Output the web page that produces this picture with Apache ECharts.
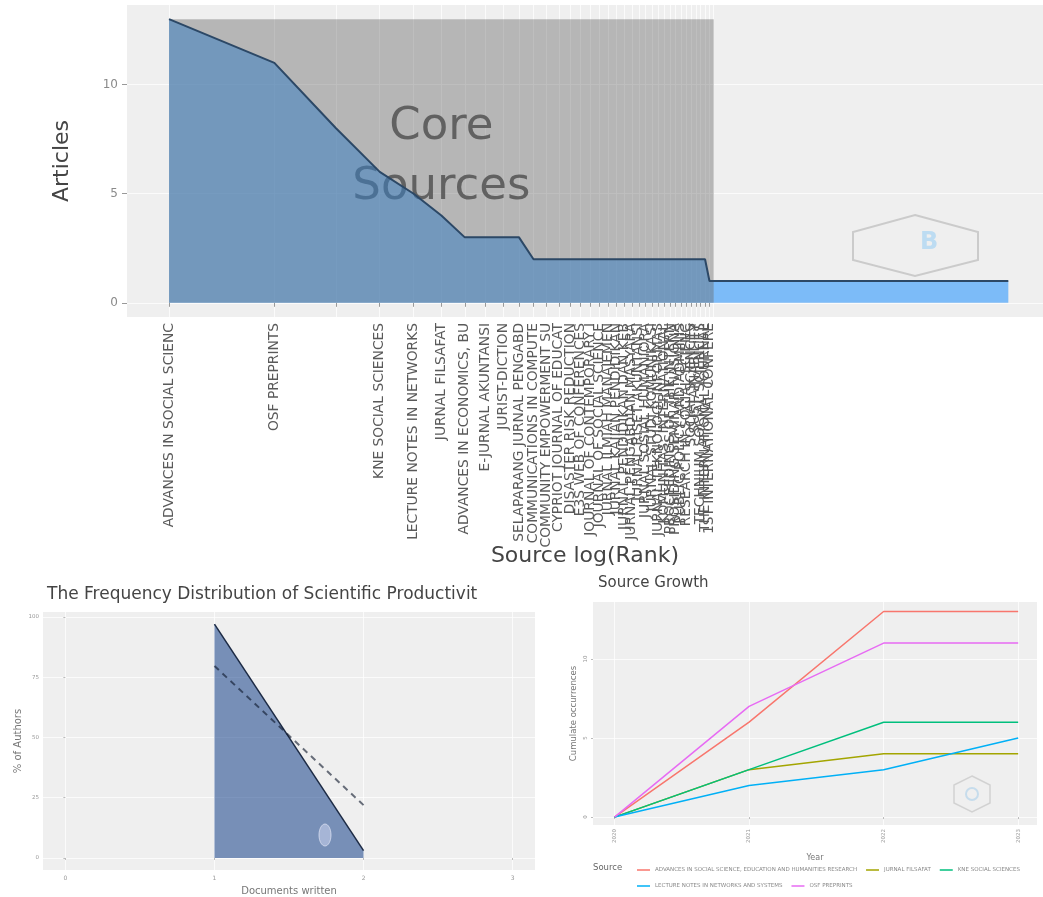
<!DOCTYPE html>
<html><head><meta charset="utf-8">
<script src="https://cdn.jsdelivr.net/npm/echarts@6/dist/echarts.min.js"></script>
<style>html,body{margin:0;padding:0;background:#fff}#c{width:1043px;height:897px}</style>
</head><body><div id="c"></div>
<script>
// ---------- Bradford's law (top) ----------
const sourceNames = [
  "ADVANCES IN SOCIAL SCIENC", "OSF PREPRINTS", "", "KNE SOCIAL SCIENCES",
  "LECTURE NOTES IN NETWORKS", "JURNAL FILSAFAT", "ADVANCES IN ECONOMICS, BU",
  "E-JURNAL AKUNTANSI", "JURIST-DICTION", "SELAPARANG JURNAL PENGABD",
  "COMMUNICATIONS IN COMPUTE", "COMMUNITY EMPOWERMENT SU", "CYPRIOT JOURNAL OF EDUCAT",
  "DISASTER RISK REDUCTION", "E3S WEB OF CONFERENCES", "JOURNAL OF CONTEMPORARY I",
  "JOURNAL OF SOCIAL SCIENCE", "JURNAL ILMIAH MANAJEMEN", "JURNAL KAJIAN PENDIDIKAN",
  "JURNAL PENDIDIKAN DAN KEB", "JURNAL PENGABDIAN MASYARA", "JURNAL RISET AKUNTANSI",
  "JURNAL SOSIAL HUMANIORA", "JURNAL STUDI KOMUNIKASI", "JURNAL TEKNOLOGI INFORMAS",
  "KOMUNITAS: INTERNATIONAL", "PROCEEDINGS OF THE INTERN", "PROSIDING SEMINAR NASIONA",
  "PUBLIC POLICY AND ADMINIS", "RESEARCH IN SOCIAL SCIENC", "SOCIAL SCIENCES",
  "SUSTAINABILITY", "TECHNIUM SOCIAL SCIENCES", "THE INTERNATIONAL JOURNAL",
  "1ST INTERNATIONAL CONFERE", "2ND INTERNATIONAL CONFERE"
];
const sourceRanks = [1,2,3,4,5,6,7,8,9,10,11,12,13,14,15,16,17,18,19,20,21,22,23,24,25,26,27,28,29,30,31,32,33,34,35,36,250];
const sourceArticles = [13,11,8,6,5,4,3,3,3,3,2,2,2,2,2,2,2,2,2,2,2,2,2,2,2,2,2,2,2,2,2,2,2,2,1,1,1];
const coreSourceCount = 36;
const articleTicks = [0,5,10];

// ---------- Lotka's law (bottom left) ----------
const lotkaDocs = [1,2];
const lotkaObserved = [97,3];
const lotkaTheoretical = [79.6,21.9];
const lotkaTicksX = [0,1,2,3];
const lotkaTicksY = [0,25,50,75,100];

// ---------- Source growth (bottom right) ----------
const growthYears = [2020,2021,2022,2023];
const growthSources = [
  "ADVANCES IN SOCIAL SCIENCE, EDUCATION AND HUMANITIES RESEARCH",
  "JURNAL FILSAFAT", "KNE SOCIAL SCIENCES",
  "LECTURE NOTES IN NETWORKS AND SYSTEMS", "OSF PREPRINTS"
];
const growthAdvances = [0,6,13,13];
const growthFilsafat = [0,3,4,4];
const growthKne = [0,3,6,6];
const growthLecture = [0,2,3,5];
const growthOsf = [0,7,11,11];
const growthTicksY = [0,5,10];
const growthColors = ['#F8766D','#A3A500','#00BF7D','#00B0F6','#E76BF3'];

const growthValues = [growthAdvances, growthFilsafat, growthKne, growthLecture, growthOsf];
const bradfordData = sourceRanks.map((r,i)=>[r, sourceArticles[i]]);
const coreRanks = sourceRanks.slice(0, coreSourceCount);
const maxArticles = Math.max(...sourceArticles);

const FONT = 'DejaVu Sans';
const chart = echarts.init(document.getElementById('c'), null, {renderer:'canvas'});
const panelBg = '#efefef';
const gridLine = {show:true, lineStyle:{color:'rgba(255,255,255,0.75)', width:1}};

const option = {
  animation:false,
  backgroundColor:'#ffffff',
  textStyle:{fontFamily:FONT},
  title:[
    {text:'The Frequency Distribution of Scientific Productivit', left:42, top:581,
     textStyle:{fontSize:17, fontWeight:'normal', color:'#444', fontFamily:FONT}},
    {text:'Source Growth', left:593, top:571,
     textStyle:{fontSize:15, fontWeight:'normal', color:'#444', fontFamily:FONT}}
  ],
  grid:[
    {left:127, top:5, width:916, height:312, show:true, backgroundColor:panelBg, borderWidth:0},
    {left:43, top:612, width:492, height:258, show:true, backgroundColor:panelBg, borderWidth:0},
    {left:593, top:602, width:444, height:223, show:true, backgroundColor:panelBg, borderWidth:0}
  ],
  xAxis:[
    {gridIndex:0, type:'log', logBase:10, min:Math.pow(10,-0.12), max:Math.pow(10,2.497),
     name:'Source log(Rank)', nameLocation:'middle', nameGap:228, nameMoveOverlap:false,
     nameTextStyle:{fontSize:22, color:'#444', fontFamily:FONT},
     axisLine:{show:false},
     axisTick:{show:true, length:4, lineStyle:{color:'#999'}, customValues:coreRanks},
     axisLabel:{rotate:90, fontSize:13.8, color:'#5a5a5a', margin:6, customValues:coreRanks,
       formatter:(v)=>sourceNames[Math.round(v)-1]},
     splitLine:gridLine, minorSplitLine:{show:false}},
    {gridIndex:1, type:'value', min:-0.15, max:3.15,
     name:'Documents written', nameLocation:'middle', nameGap:16, nameMoveOverlap:false,
     nameTextStyle:{fontSize:10, color:'#777', fontFamily:FONT},
     axisLine:{show:false},
     axisTick:{show:true, length:2, lineStyle:{color:'#bbb'}, customValues:lotkaTicksX},
     axisLabel:{fontSize:6, color:'#999', margin:5, customValues:lotkaTicksX},
     splitLine:gridLine},
    {gridIndex:2, type:'value', min:2019.84, max:2023.14,
     name:'Year', nameLocation:'middle', nameGap:29, nameMoveOverlap:false,
     nameTextStyle:{fontSize:8, color:'#777', fontFamily:FONT},
     axisLine:{show:false},
     axisTick:{show:true, length:2, lineStyle:{color:'#bbb'}, customValues:growthYears},
     axisLabel:{rotate:90, fontSize:5.5, color:'#999', margin:4, customValues:growthYears,
       formatter:(v)=>String(Math.round(v))},
     splitLine:gridLine}
  ],
  yAxis:[
    {gridIndex:0, type:'value', min:-0.65, max:13.65,
     name:'Articles', nameLocation:'middle', nameGap:54, nameRotate:90, nameMoveOverlap:false,
     nameTextStyle:{fontSize:22, color:'#444', fontFamily:FONT},
     axisLine:{show:false},
     axisTick:{show:true, length:5, lineStyle:{color:'#999'}, customValues:articleTicks},
     axisLabel:{fontSize:12, color:'#8a8a8a', margin:9, customValues:articleTicks},
     splitLine:gridLine},
    {gridIndex:1, type:'value', min:-5, max:102,
     name:'% of Authors', nameLocation:'middle', nameGap:20, nameRotate:90, nameMoveOverlap:false,
     nameTextStyle:{fontSize:10, color:'#777', fontFamily:FONT},
     axisLine:{show:false},
     axisTick:{show:true, length:2, lineStyle:{color:'#bbb'}, customValues:lotkaTicksY},
     axisLabel:{fontSize:5.5, color:'#999', margin:4, customValues:lotkaTicksY},
     splitLine:gridLine},
    {gridIndex:2, type:'value', min:-0.5, max:13.6,
     name:'Cumulate occurrences', nameLocation:'middle', nameGap:15, nameRotate:90, nameMoveOverlap:false,
     nameTextStyle:{fontSize:8.5, color:'#777', fontFamily:FONT},
     axisLine:{show:false},
     axisTick:{show:true, length:2, lineStyle:{color:'#bbb'}, customValues:growthTicksY},
     axisLabel:{rotate:90, fontSize:5.5, color:'#999', margin:4, customValues:growthTicksY},
     splitLine:gridLine}
  ],
  legend:[
    {data:growthSources.slice(0,3), left:632, top:862, orient:'horizontal', icon:'rect',
     itemWidth:13, itemHeight:1.5, itemGap:9, textStyle:{fontSize:5.5, color:'#888', fontFamily:FONT}},
    {data:growthSources.slice(3), left:632, top:878, orient:'horizontal', icon:'rect',
     itemWidth:13, itemHeight:1.5, itemGap:9, textStyle:{fontSize:5.5, color:'#888', fontFamily:FONT}}
  ],
  graphic:[
    {type:'text', left:593, top:863, z:100, style:{text:'Source', fontSize:8.5, fill:'#666', fontFamily:FONT}},
    {type:'polygon', z:100, shape:{points:[[915,215],[978,232],[978,260],[915,276],[853,260],[853,232]]},
     style:{fill:'none', stroke:'#cbcbcb', lineWidth:2}},
    {type:'text', z:100, left:920, top:231, style:{text:'B', fontSize:24, fontWeight:'bold', fill:'#bddcf2', fontFamily:FONT}},
    {type:'polygon', z:100, shape:{points:[[972,776],[990,785],[990,803],[972,812],[954,803],[954,785]]},
     style:{fill:'none', stroke:'#d2d2d2', lineWidth:1.5}},
    {type:'circle', z:100, shape:{cx:972, cy:794, r:6}, style:{fill:'none', stroke:'#c6dcec', lineWidth:2}},
    {type:'ellipse', z:100, shape:{cx:325, cy:835, rx:6, ry:11}, style:{fill:'rgba(205,214,240,0.55)', stroke:'rgba(225,230,245,0.7)', lineWidth:1}}
  ],
  series:[
    // "Core Sources" annotation (under the area)
    {type:'scatter', xAxisIndex:0, yAxisIndex:0, z:1, silent:true,
     data:[[Math.sqrt(coreSourceCount), maxArticles/2]], symbolSize:0,
     label:{show:true, position:'inside', offset:[0,-4], formatter:'Core\nSources', fontSize:45, lineHeight:60,
       color:'#3a3a3a', fontFamily:FONT}},
    // Bradford area
    {type:'line', xAxisIndex:0, yAxisIndex:0, z:2, data:bradfordData, showSymbol:false, symbol:'none',
     lineStyle:{width:0, opacity:0}, areaStyle:{color:'rgba(30,144,255,0.55)', opacity:1}},
    // core sources rectangle
    {type:'line', xAxisIndex:0, yAxisIndex:0, z:3, data:[], silent:true,
     markArea:{silent:true, z:3, itemStyle:{color:'rgba(102,102,102,0.41)'},
       data:[[{coord:[sourceRanks[0],0]},{coord:[coreSourceCount, maxArticles]}]]}},
    // Bradford line
    {type:'line', xAxisIndex:0, yAxisIndex:0, z:4, data:bradfordData, showSymbol:false, symbol:'none',
     lineStyle:{width:2, color:'#2c4866'}},
    // Lotka observed
    {type:'line', xAxisIndex:1, yAxisIndex:1, z:2, data:lotkaDocs.map((d,i)=>[d,lotkaObserved[i]]),
     showSymbol:false, symbol:'none', lineStyle:{width:1.5, color:'#1c2a44'},
     areaStyle:{color:'rgba(0,47,128,0.5)', opacity:1}},
    // Lotka theoretical
    {type:'line', xAxisIndex:1, yAxisIndex:1, z:3, data:lotkaDocs.map((d,i)=>[d,lotkaTheoretical[i]]),
     showSymbol:false, symbol:'none', lineStyle:{width:2, color:'rgba(10,20,40,0.6)', type:[6,5]}},
    // Source growth
    ...growthSources.map((name,k)=>({
      type:'line', name:name, xAxisIndex:2, yAxisIndex:2, z:3,
      data:growthYears.map((y,i)=>[y, growthValues[k][i]]),
      showSymbol:false, symbol:'none', color:growthColors[k],
      lineStyle:{width:1.5, color:growthColors[k]}
    }))
  ]
};
chart.setOption(option);
</script></body></html>
